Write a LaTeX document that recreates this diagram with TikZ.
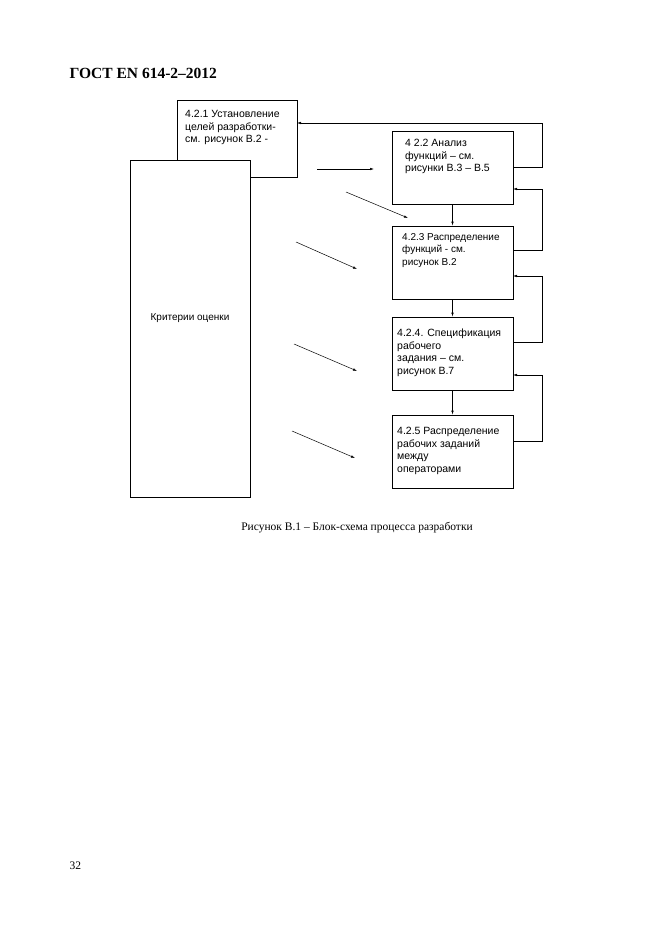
\documentclass[tikz,border=0pt]{standalone}
\usepackage{fontspec}
\setmainfont{Liberation Serif}
\newfontfamily\sans{Liberation Sans}
\usetikzlibrary{arrows.meta}
\begin{document}
\begin{tikzpicture}[x=1pt,y=-1pt,
 box/.style={draw,line width=0.8pt},
 lbl/.style={font=\sans\fontsize{10.5}{12.5}\selectfont,align=left,anchor=north west,inner sep=0},
 arr/.style={-{Latex[length=4pt,width=2.5pt]},line width=0.5pt}]
\useasboundingbox (0,0) rectangle (661,936);
\node[font=\bfseries\fontsize{15.5}{17}\selectfont,anchor=west] (title) at (66,73) {ГОСТ EN 614-2–2012};
\draw[box] (177,100) rectangle (297,177);
\node[lbl] (t1) at (185,110) {4.2.1 Установление\\целей разработки-\\см. рисунок В.2 -};
\draw[box,fill=white] (130,160) rectangle (250,497);
\node[font=\sans\fontsize{10}{11}\selectfont] (crit) at (190,318) {Критерии оценки};
\node[box,minimum width=121pt,minimum height=73pt,inner sep=0] (b2) at (452.5,167.5) {};
\node[box,minimum width=121pt,minimum height=73pt,inner sep=0] (b3) at (452.5,262.5) {};
\node[box,minimum width=121pt,minimum height=73pt,inner sep=0] (b4) at (452.5,353.5) {};
\node[box,minimum width=121pt,minimum height=73pt,inner sep=0] (b5) at (452.5,451.5) {};
\node[lbl] at (405,139) {4 2.2 Анализ\\функций – см.\\рисунки В.3 – В.5};
\node[lbl,font=\sans\fontsize{10}{12.5}\selectfont] at (402,233) {4.2.3 Распределение\\функций - см.\\рисунок В.2};
\node[lbl] at (397,329) {4.2.4. Спецификация\\рабочего\\задания – см.\\рисунок В.7};
\node[lbl] at (397,427) {4.2.5 Распределение\\рабочих заданий\\между\\операторами};
\draw[arr] (b2.south) -- (b3.north);
\draw[arr] (b3.south) -- (b4.north);
\draw[arr] (b4.south) -- (b5.north);
\coordinate (c1) at (297,123);
\draw[arr] (513,167) -| (542,123) -- (c1);
\draw[arr] (513,250) -| (542,189) -- (513,189);
\draw[arr] (513,342) -| (542,276) -- (513,276);
\draw[arr] (513,441) -| (542,375) -- (513,375);
\draw[arr] (317,169) -- (374,169);
\draw[arr] (346,192) -- (408,218);
\draw[arr] (296,242) -- (357,269);
\draw[arr] (294,344) -- (357,371);
\draw[arr] (292,431) -- (355,458);
\node[font=\fontsize{11.5}{13}\selectfont] (cap) at (357,528) {Рисунок В.1 – Блок-схема процесса разработки};
\node[font=\fontsize{11.5}{13}\selectfont,anchor=west] (pg) at (66,866) {32};
\end{tikzpicture}
\end{document}
